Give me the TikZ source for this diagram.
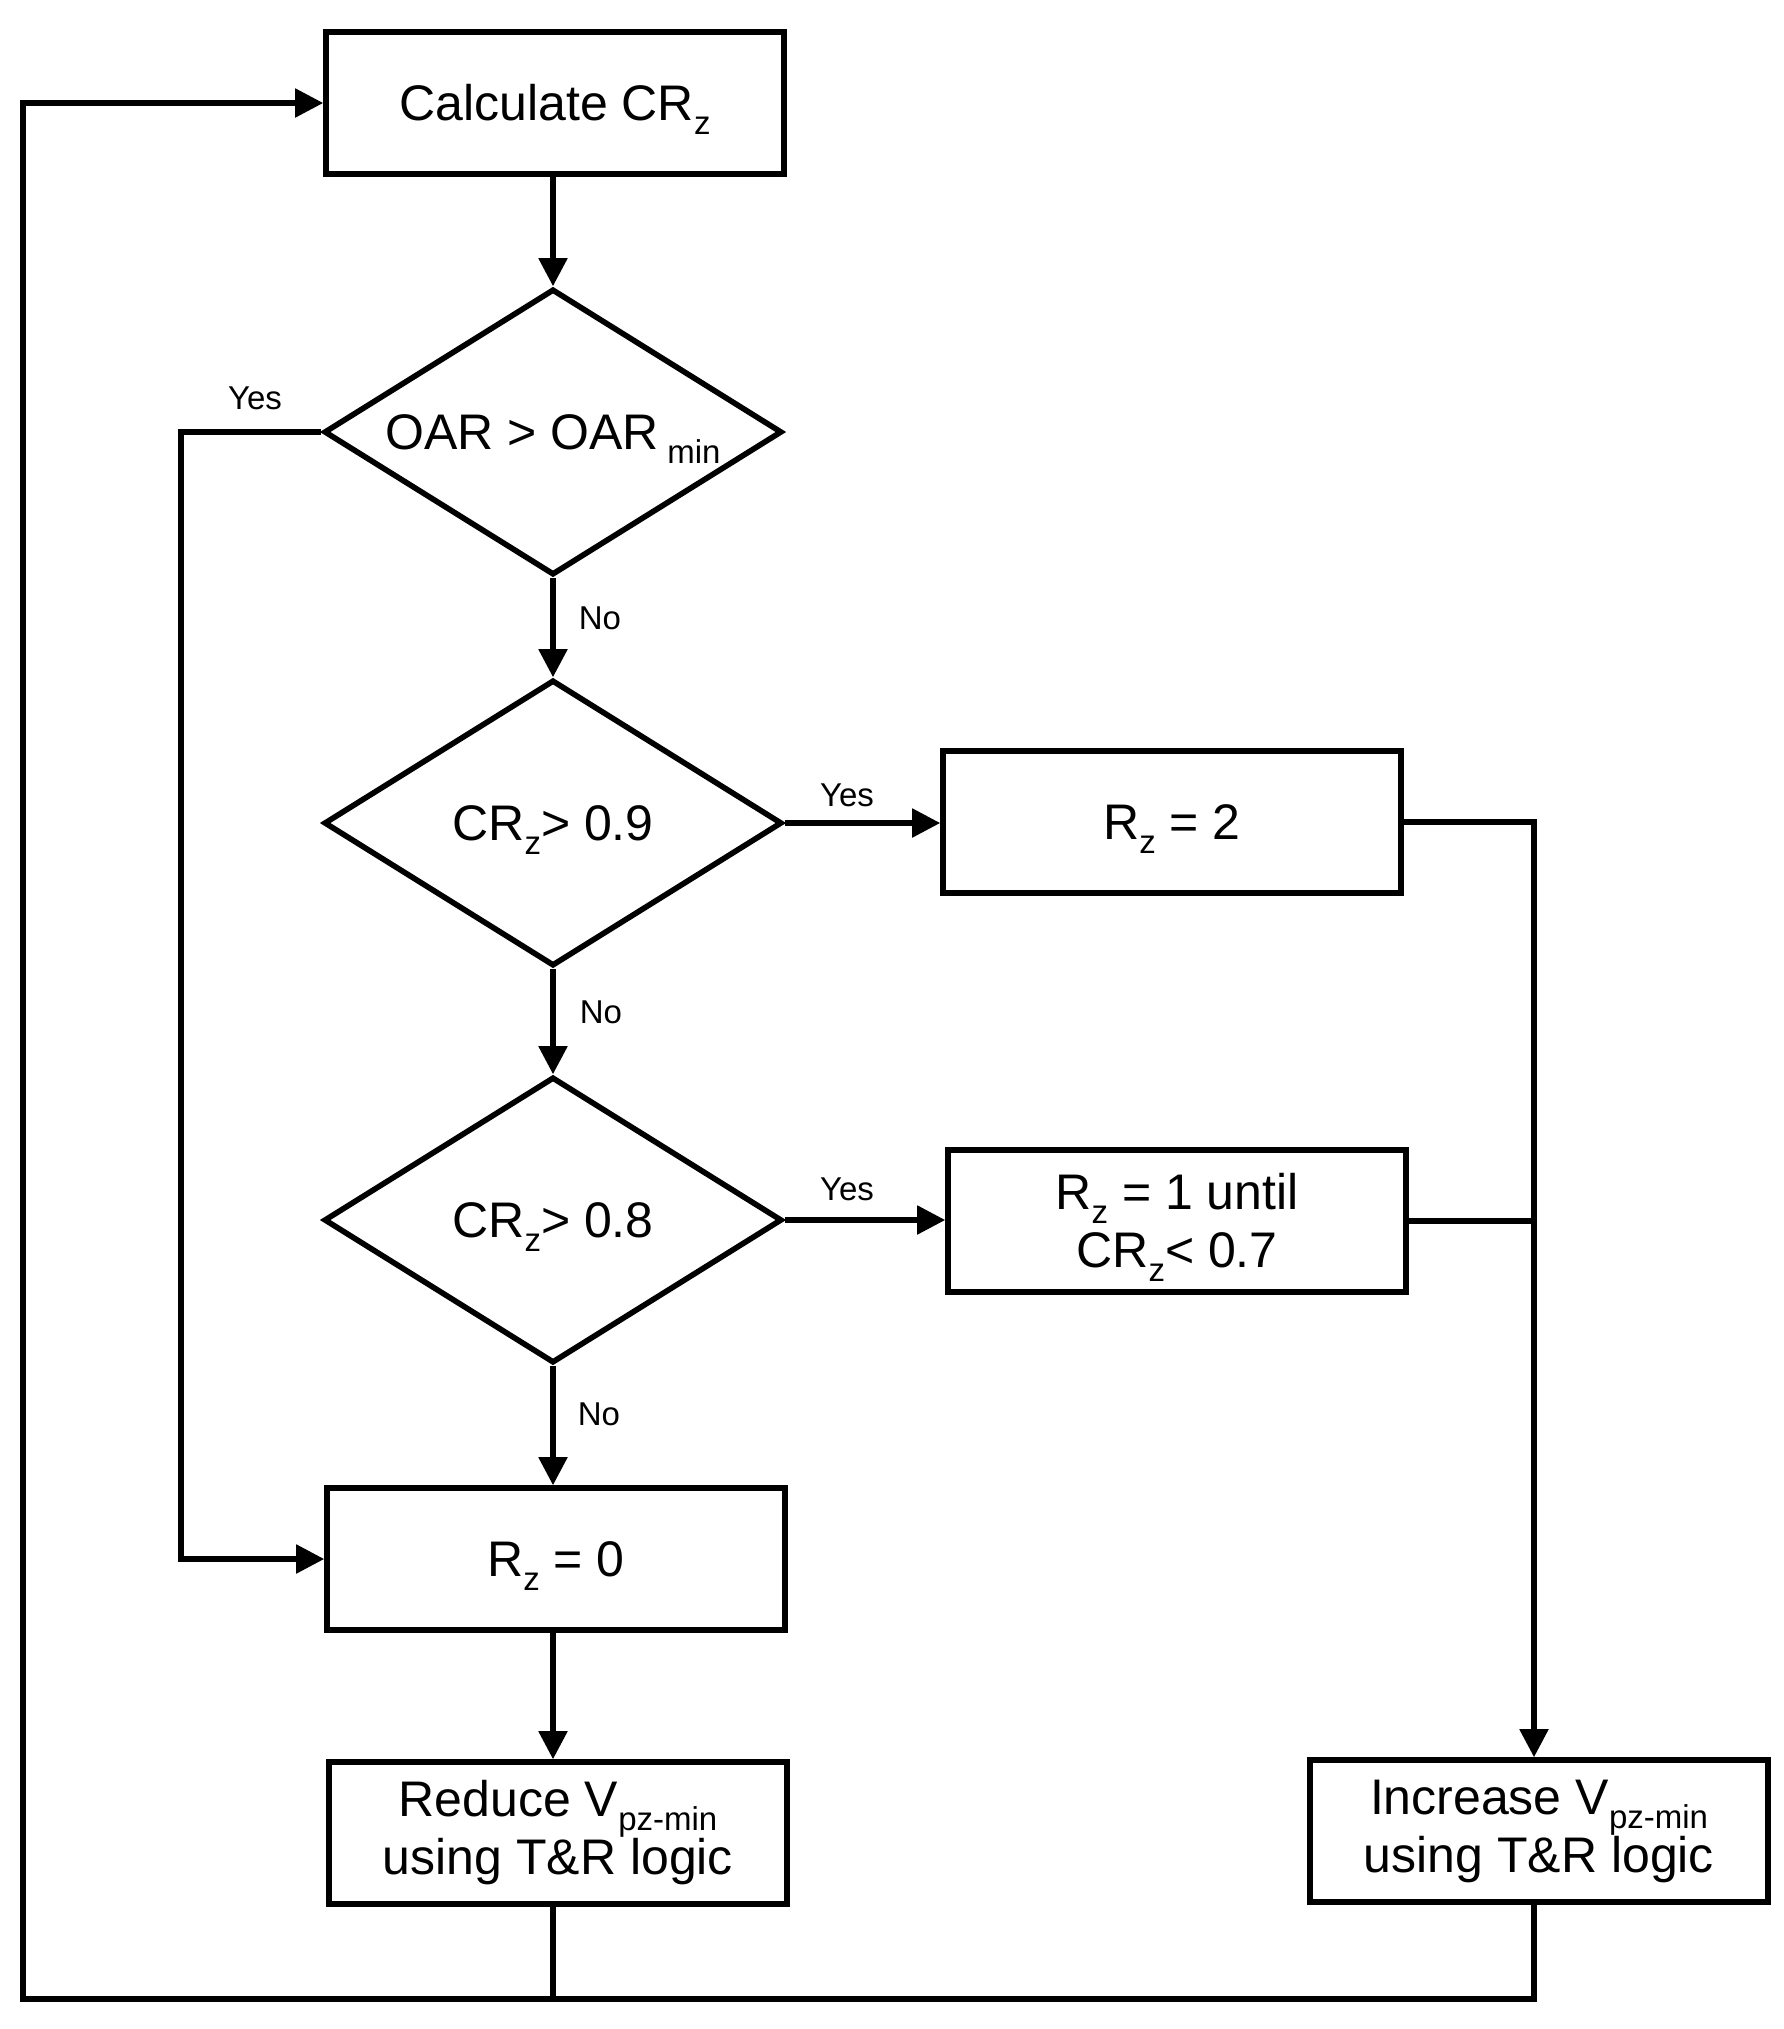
\documentclass[tikz,border=0pt]{standalone}
\usepackage{fontspec}
\setmainfont{Liberation Sans}
\usetikzlibrary{shapes.geometric,arrows.meta}
\newcommand{\mysub}[1]{\smash{\raisebox{-7pt}{\fontsize{16.5}{16.5}\selectfont #1}}}
\begin{document}
\begin{tikzpicture}[x=0.5pt,y=-0.5pt,
  every node/.style={font=\fontsize{25}{29}\selectfont},
  stepbox/.style={draw,line width=2.8pt,rectangle,inner sep=0pt,align=center,minimum width=229pt,minimum height=71pt},
  decision/.style={draw,line width=2.8pt,diamond,shape aspect=1.6,inner sep=0pt,minimum width=229pt,minimum height=143pt},
  conn/.style={line width=2.6pt,line join=miter},
  arr/.style={conn,-{Triangle[length=14pt,width=14pt]}},
  lbl/.style={font=\fontsize{16.5}{16.5}\selectfont,inner sep=0pt}]
\useasboundingbox (0,0) rectangle (1783,2029);
\node[stepbox] (calc) at (555,103) {Calculate CR\mysub{z}};
\node[decision] (d1) at (553,432) {OAR > OAR\,\mysub{min}};
\node[decision] (d2) at (553,823) {CR\mysub{z}> 0.9};
\node[decision] (d3) at (553,1220) {CR\mysub{z}> 0.8};
\node[stepbox] (r2) at (1172,822) {R\mysub{z} = 2};
\node[stepbox] (r1) at (1177,1221) {R\mysub{z} = 1 until\\CR\mysub{z}< 0.7};
\node[stepbox] (r0) at (556,1559) {R\mysub{z} = 0};
\node[stepbox] (reduce) at (558,1833) {Reduce V\mysub{pz-min}\\using T\&R logic};
\node[stepbox] (increase) at (1539,1831) {Increase V\mysub{pz-min}\\using T\&R logic};
\coordinate (yl) at (181,432);
\coordinate (rs) at (1534,822);
\coordinate (bl) at (23,1999);
\coordinate (tl) at (23,103);
\draw[arr] (calc.south -| d1.north) -- (d1.north);
\draw[arr] (d1.south) -- (d2.north);
\draw[arr] (d2.south) -- (d3.north);
\draw[arr] (d3.south) -- (r0.north -| d3.south);
\draw[arr] (d1.west) -- (yl) |- (r0.west);
\draw[arr] (d2.east) -- (r2.west |- d2.east);
\draw[arr] (d3.east) -- (r1.west |- d3.east);
\draw[arr] (r2.east |- rs) -- (rs) -- (rs |- increase.north);
\draw[conn] (r1.east) -- (rs |- r1.east);
\draw[arr] (r0.south -| d3.south) -- (reduce.north -| d3.south);
\draw[arr] (rs |- increase.south) |- (bl) -- (tl) -- (calc.west);
\draw[conn] (reduce.south -| d3.south) -- (bl -| d3.south);
\node[lbl] (yes1) at (255,398) {Yes};
\node[lbl] (no1) at (600,618) {No};
\node[lbl] (yes2) at (847,795) {Yes};
\node[lbl] (no2) at (601,1012) {No};
\node[lbl] (yes3) at (847,1189) {Yes};
\node[lbl] (no3) at (599,1414) {No};
\end{tikzpicture}
\end{document}
